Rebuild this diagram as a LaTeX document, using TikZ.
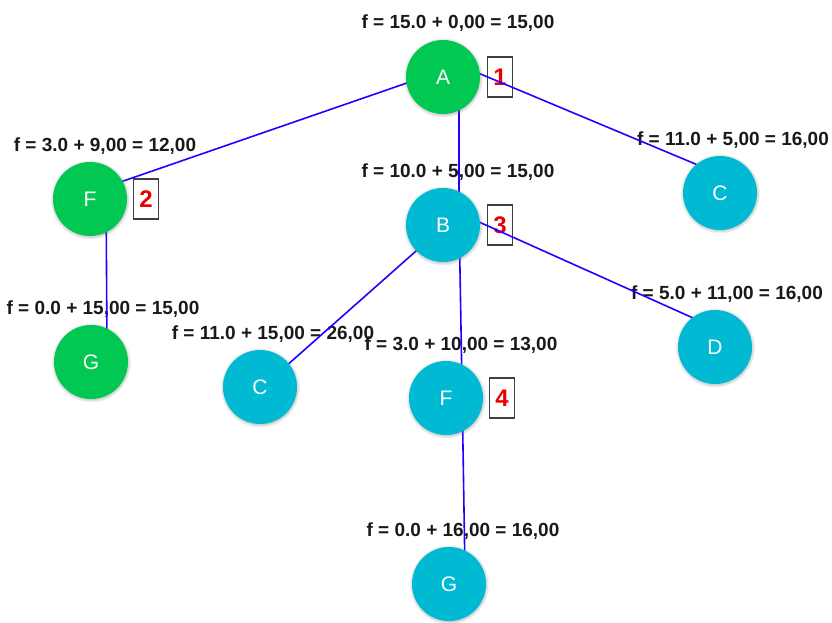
\documentclass[tikz,border=0pt]{standalone}
\usepackage{fontspec}
\setmainfont{Liberation Sans}
\usetikzlibrary{
  positioning,
  backgrounds,
  calc,
  shadows,
}
\definecolor{open_green}{RGB}{0,200,83}
\definecolor{node_cyan}{RGB}{0,186,212}
\definecolor{edge_blue}{RGB}{35,0,255}
\definecolor{order_red}{RGB}{235,0,0}
\tikzset{
  state/.style={circle, minimum size=74pt, inner sep=0pt, text=white,
    font=\fontsize{21}{25}\selectfont,
    circular drop shadow={shadow scale=1.08, shadow xshift=0pt, shadow yshift=-0.5pt, opacity=.6}},
  closed/.style={state, fill=open_green},
  frontier/.style={state, fill=node_cyan},
  cost/.style={anchor=base, text=black!90, font=\bfseries\fontsize{19}{22}\selectfont},
  order/.style={draw=black!75, line width=1.3pt, minimum width=25pt, minimum height=40pt,
    inner sep=0pt, text=order_red, font=\bfseries\fontsize{24}{27}\selectfont},
  edge/.style={draw=edge_blue, line width=1.6pt},
}

\begin{document}
\begin{tikzpicture}[x=1pt, y=-1pt]
    \useasboundingbox (0,0) rectangle (832,623);

    % the search tree
    \node[closed] (a) at (443,77) {A};
    \node[closed] (f1) at (90,199) {F};
    \node[closed] (g1) at (91,362) {G};
    \node[frontier] (b) at (443,225) {B};
    \node[frontier] (c1) at (720,193) {C};
    \node[frontier] (d) at (715,347) {D};
    \node[frontier] (c2) at (260,387) {C};
    \node[frontier] (f2) at (446,398) {F};
    \node[frontier] (g2) at (449,584) {G};

    % labels, boxes and edges go under the circles
    \begin{scope}[on background layer]
      % f = g + h above each node
      \node[cost] (fa) at ($(a)+(15,-48)$) {f = 15.0 + 0,00 = 15,00};
      \node[cost] (ff1) at ($(f1)+(15,-48)$) {f = 3.0 + 9,00 = 12,00};
      \node[cost] (fg1) at ($(g1)+(12,-48)$) {f = 0.0 + 15,00 = 15,00};
      \node[cost] (fb) at ($(b)+(15,-48)$) {f = 10.0 + 5,00 = 15,00};
      \node[cost] (fc1) at ($(c1)+(13,-48)$) {f = 11.0 + 5,00 = 16,00};
      \node[cost] (fd) at ($(d)+(12,-48)$) {f = 5.0 + 11,00 = 16,00};
      \node[cost] (fc2) at ($(c2)+(13,-48)$) {f = 11.0 + 15,00 = 26,00};
      \node[cost] (ff2) at ($(f2)+(15,-48)$) {f = 3.0 + 10,00 = 13,00};
      \node[cost] (fg2) at ($(g2)+(14,-48)$) {f = 0.0 + 16,00 = 16,00};

      % expansion order
      \node[order] (o1) at ($(a)+(57,0)$) {1};
      \node[order] (o2) at ($(f1)+(56,0)$) {2};
      \node[order] (o3) at ($(b)+(57,0)$) {3};
      \node[order] (o4) at ($(f2)+(56,0)$) {4};

      % edges start a bit off the centres
      \foreach \u/\v in {a/f1, a/b, a/c1, f1/g1, b/c2, b/f2, b/d, f2/g2} {
        \draw[edge] ($(\u)+(16,-12)$) -- ($(\v)+(16,-12)$);
      }
    \end{scope}
\end{tikzpicture}
\end{document}
